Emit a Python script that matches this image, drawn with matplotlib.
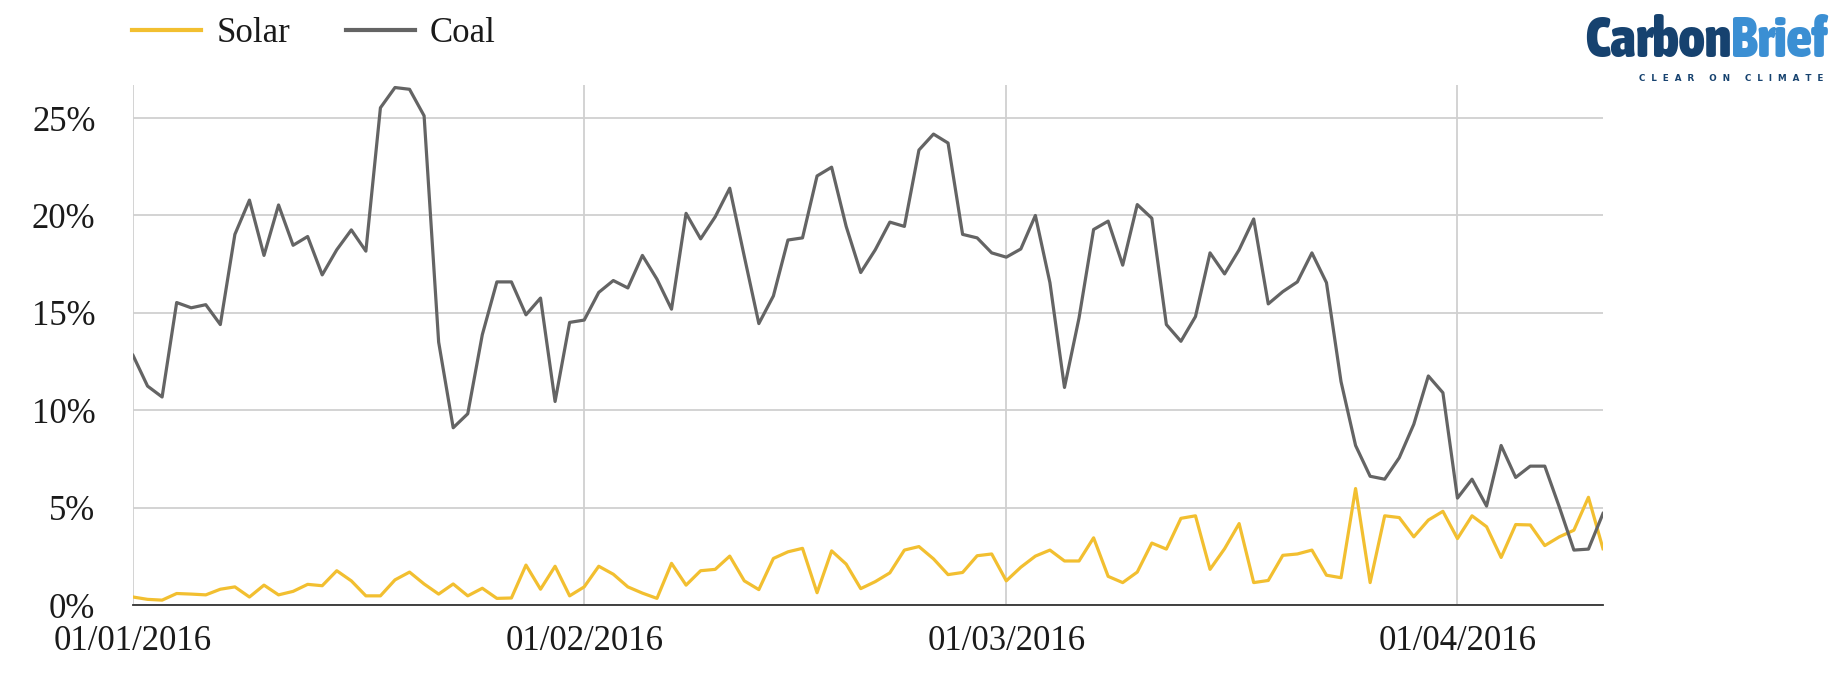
import matplotlib
matplotlib.use("Agg")
import matplotlib.pyplot as plt
import matplotlib.dates as mdates
from matplotlib import font_manager as fm
import pandas as pd

start_date = "2016-01-01"

coal = [12.82, 11.24, 10.68, 15.53, 15.26, 15.42, 14.40, 19.03, 20.79, 17.95,
        20.54, 18.47, 18.92, 16.95, 18.24, 19.26, 18.17, 25.53, 26.57, 26.48,
        25.12, 13.50, 9.10, 9.82, 13.88, 16.59, 16.59, 14.90, 15.76, 10.45,
        14.51, 14.63, 16.05, 16.66, 16.28, 17.95, 16.73, 15.19, 20.11, 18.80,
        19.93, 21.40, 17.90, 14.45, 15.87, 18.74, 18.85, 22.03, 22.48, 19.44,
        17.07, 18.24, 19.66, 19.44, 23.36, 24.18, 23.72, 19.03, 18.85, 18.08,
        17.86, 18.28, 20.00, 16.55, 11.17, 14.74, 19.28, 19.71, 17.45, 20.56,
        19.86, 14.40, 13.54, 14.81, 18.08, 17.00, 18.24, 19.82, 15.46, 16.09,
        16.59, 18.08, 16.55, 11.47, 8.19, 6.61, 6.46, 7.56, 9.28, 11.76,
        10.90, 5.49, 6.46, 5.08, 8.19, 6.55, 7.13, 7.13, 5.03, 2.82,
        2.87, 4.70]

solar = [0.41, 0.29, 0.25, 0.59, 0.56, 0.52, 0.81, 0.93, 0.41, 1.02,
         0.52, 0.70, 1.06, 0.99, 1.76, 1.24, 0.47, 0.47, 1.29, 1.69,
         1.08, 0.56, 1.08, 0.47, 0.86, 0.34, 0.36, 2.05, 0.81, 1.99,
         0.47, 0.93, 1.99, 1.58, 0.93, 0.61, 0.34, 2.14, 1.02, 1.76,
         1.83, 2.51, 1.24, 0.79, 2.39, 2.73, 2.91, 0.63, 2.78, 2.10,
         0.84, 1.20, 1.65, 2.82, 3.00, 2.37, 1.56, 1.67, 2.53, 2.62,
         1.24, 1.94, 2.51, 2.82, 2.26, 2.26, 3.45, 1.47, 1.15, 1.69,
         3.18, 2.87, 4.45, 4.58, 1.83, 2.89, 4.18, 1.15, 1.26, 2.55,
         2.62, 2.82, 1.53, 1.40, 5.98, 1.15, 4.58, 4.49, 3.50, 4.36,
         4.81, 3.41, 4.58, 4.02, 2.44, 4.13, 4.11, 3.05, 3.50, 3.84,
         5.53, 2.89]

series_names = ["Solar", "Coal"]
y_ticks = [0, 5, 10, 15, 20, 25]
x_ticks = ["2016-01-01", "2016-02-01", "2016-03-01", "2016-04-01"]

SOLAR_C = "#f2bf30"
COAL_C = "#646464"
GRID_C = "#d0d0d0"
SERIF = ["Liberation Serif", "DejaVu Serif"]
FS = 25

dates = pd.date_range(start_date, periods=len(coal), freq="D")

W, H = 1848, 691
fig = plt.figure(figsize=(W / 100, H / 100), dpi=100)
ax_l, ax_r, ax_b, ax_t = 133, 1603, 605, 85
ax = fig.add_axes([ax_l / W, 1 - ax_b / H, (ax_r - ax_l) / W, (ax_b - ax_t) / H])

l_solar, = ax.plot(dates, solar, color=SOLAR_C, lw=2.3, zorder=3)
l_coal, = ax.plot(dates, coal, color=COAL_C, lw=2.3, zorder=3)

ax.set_xlim(dates[0], dates[-1])
ax.set_ylim(0, 26.7)
ax.set_yticks(y_ticks)
ax.set_yticklabels([f"{v}%" for v in y_ticks])
ax.set_xticks(pd.to_datetime(x_ticks))
ax.xaxis.set_major_formatter(mdates.DateFormatter("%d/%m/%Y"))

ax.grid(True, color=GRID_C, lw=1.3, zorder=0)
for s in ["left", "right", "top"]:
    ax.spines[s].set_visible(False)
ax.spines["bottom"].set_color("#333333")
ax.spines["bottom"].set_linewidth(1.3)
ax.tick_params(axis="both", length=0, labelsize=FS, colors="#1a1a1a")
ax.tick_params(axis="y", pad=27)
ax.tick_params(axis="x", pad=14.5)
for lab in ax.get_xticklabels() + ax.get_yticklabels():
    lab.set_family(SERIF)

leg = fig.legend([l_solar, l_coal], series_names, loc="upper left",
                 bbox_to_anchor=(132 / W, 1 - 17 / H), ncol=2, frameon=False,
                 borderaxespad=0, borderpad=0,
                 prop={"family": SERIF, "size": FS}, handlelength=2.0,
                 handletextpad=0.43, columnspacing=1.6)
for t in leg.get_texts():
    t.set_color("#1a1a1a")
for h in leg.legend_handles:
    h.set_linewidth(3)

# ---- CarbonBrief logo (real text) ----
def pick_condensed():
    best = None
    for f in fm.fontManager.ttflist:
        nm = (f.name + " " + str(f.style)).lower()
        cond = ("narrow" in f.fname.lower() or "condensed" in f.fname.lower()
                or "narrow" in f.name.lower() or "condensed" in f.name.lower()
                or str(f.stretch) in ("condensed", "semi-condensed", "extra-condensed", "ultra-condensed"))
        if not cond or "italic" in nm or "oblique" in nm:
            continue
        w = f.weight if isinstance(f.weight, int) else {"bold": 700, "heavy": 800, "black": 900}.get(str(f.weight), 400)
        if best is None or w > best[0]:
            best = (w, f.fname)
    if best:
        return fm.FontProperties(fname=best[1])
    return fm.FontProperties(family="DejaVu Sans", weight="bold")

logo_fp = pick_condensed()
target_w = 1828 - 1585
base_y = 1 - 57 / H
fs_logo = 44
fig.canvas.draw()
r = fig.canvas.get_renderer()
for _ in range(3):
    fp = logo_fp.copy(); fp.set_size(fs_logo)
    t1 = fig.text(1585 / W, base_y, "Carbon", color="#16426f", fontproperties=fp,
                  ha="left", va="baseline")
    t2 = fig.text(0, base_y, "Brief", color="#3b8fd3", fontproperties=fp,
                  ha="left", va="baseline")
    b1 = t1.get_window_extent(r)
    b2 = t2.get_window_extent(r)
    total = b1.width + b2.width
    if abs(total - target_w) < 3:
        break
    t1.remove(); t2.remove()
    fs_logo *= target_w / total
b1 = t1.get_window_extent(r)
t2.set_x(b1.x1 / W)

fs_tag = 6.2
tag = fig.text(1823 / W, 1 - 81 / H, "C  L  E  A  R     O  N     C  L  I  M  A  T  E",
               color="#16426f", fontsize=fs_tag, fontweight="bold",
               family=["DejaVu Sans"], ha="right", va="baseline")
tw = tag.get_window_extent(r).width
tag.set_fontsize(fs_tag * 187 / tw)

fig.savefig("out.png", dpi=100)
